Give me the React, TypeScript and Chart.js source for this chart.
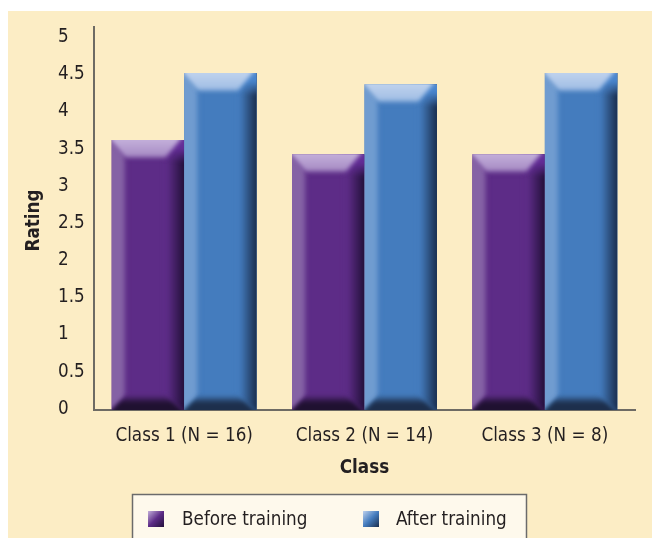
import React, { useEffect, useRef } from "react";
import { Chart, registerables } from "chart.js";

Chart.register(...registerables);

// ---- data ----
const categories = ["Class 1 (N = 16)", "Class 2 (N = 14)", "Class 3 (N = 8)"];
const seriesNames = ["Before training", "After training"];
const beforeTraining = [3.63, 3.44, 3.44];
const afterTraining = [4.53, 4.38, 4.53];
const yTicks = [0, 0.5, 1, 1.5, 2, 2.5, 3, 3.5, 4, 4.5, 5];
const xTitle = "Class";
const yTitle = "Rating";

// ---- styles ----
const FONT = "'DejaVu Sans Condensed', 'DejaVu Sans', sans-serif";
const FS = 18.7;
const TEXT = "#231F20";
const AXIS = "#6E6B64";
const BG = "#FCEDC5";

const palettes = [
  { main: "#5D2C87", light: "#8562A5", top: "#C3AFDA", topEnd: "#A88DC5", accent: "rgba(100,46,152,1)", accent0: "rgba(100,46,152,0)", dark: "#23103A", bottom: "#1F1130" },
  { main: "#447CBE", light: "#709CD0", top: "#BFD2ED", topEnd: "#A2BFE5", accent: "rgba(74,134,206,1)", accent0: "rgba(74,134,206,0)", dark: "#1A2E4E", bottom: "#1D2F4C" },
];

const bevelPlugin = {
  id: "bevel",
  afterDatasetsDraw(chart: any) {
    const ctx: CanvasRenderingContext2D = chart.ctx;
    chart.data.datasets.forEach((_ds: any, di: number) => {
      const meta = chart.getDatasetMeta(di);
      const p = palettes[di];
      meta.data.forEach((el: any) => {
        const { x, y, base, width } = el.getProps(["x", "y", "base", "width"], true);
        const x0 = x - width / 2;
        const x1 = x + width / 2;
        const top = Math.min(y, base);
        const bot = Math.max(y, base);
        const h = bot - top;
        const l = 15;
        const r = 20;
        const th = 19;
        const bh = 15;
        const E = 8;
        ctx.save();
        ctx.beginPath();
        ctx.rect(x0, top, width, h);
        ctx.clip();
        (ctx as any).filter = "blur(2px)";
        // left strip
        let g = ctx.createLinearGradient(x0, 0, x0 + l, 0);
        g.addColorStop(0, p.light);
        g.addColorStop(0.75, p.light);
        g.addColorStop(1, p.main);
        ctx.fillStyle = g;
        ctx.beginPath();
        ctx.moveTo(x0 - E, top - E);
        ctx.lineTo(x0 + l, top + th);
        ctx.lineTo(x0 + l, bot - bh);
        ctx.lineTo(x0 - E, bot + E);
        ctx.closePath();
        ctx.fill();
        // right strip (full height)
        g = ctx.createLinearGradient(x1 - r, 0, x1, 0);
        g.addColorStop(0, p.main);
        g.addColorStop(0.15, p.main);
        g.addColorStop(1, p.dark);
        ctx.fillStyle = g;
        ctx.beginPath();
        ctx.moveTo(x1 + E, top - E);
        ctx.lineTo(x1 - r, top - E);
        ctx.lineTo(x1 - r, bot - bh);
        ctx.lineTo(x1 + E, bot + E);
        ctx.closePath();
        ctx.fill();
        // top-right accent, fading out downward
        g = ctx.createLinearGradient(0, top, 0, top + th + 4);
        g.addColorStop(0, p.accent);
        g.addColorStop(0.35, p.accent);
        g.addColorStop(1, p.accent0);
        ctx.fillStyle = g;
        ctx.beginPath();
        ctx.moveTo(x1 + E, top - E);
        ctx.lineTo(x1 + E, top + th + 4);
        ctx.lineTo(x1 - r, top + th);
        ctx.lineTo(x1 - r - E, top - E);
        ctx.closePath();
        ctx.fill();
        // top band with diagonal right end
        g = ctx.createLinearGradient(0, top, 0, top + th);
        g.addColorStop(0, p.top);
        g.addColorStop(0.82, p.topEnd);
        g.addColorStop(1, p.main);
        ctx.fillStyle = g;
        ctx.beginPath();
        ctx.moveTo(x0 - E, top - E);
        ctx.lineTo(x1 + E * 0.3, top - E);
        ctx.lineTo(x1 - r, top + th);
        ctx.lineTo(x0 + l, top + th);
        ctx.closePath();
        ctx.fill();
        // bottom band
        g = ctx.createLinearGradient(0, bot - bh, 0, bot);
        g.addColorStop(0, p.main);
        g.addColorStop(0.55, p.bottom);
        g.addColorStop(1, p.bottom);
        ctx.fillStyle = g;
        ctx.beginPath();
        ctx.moveTo(x0 - E, bot + E);
        ctx.lineTo(x0 + l, bot - bh);
        ctx.lineTo(x1 - r, bot - bh);
        ctx.lineTo(x1 + E, bot + E);
        ctx.closePath();
        ctx.fill();
        ctx.restore();
      });
    });
  },
};

const extrasPlugin = {
  id: "extras",
  afterDraw(chart: any) {
    const ctx: CanvasRenderingContext2D = chart.ctx;
    const area = chart.chartArea;
    // y title
    ctx.save();
    ctx.translate(26, (area.top + area.bottom) / 2 + 2);
    ctx.rotate(-Math.PI / 2);
    ctx.font = `bold ${FS}px ${FONT}`;
    ctx.fillStyle = TEXT;
    ctx.textAlign = "center";
    ctx.textBaseline = "middle";
    ctx.fillText(yTitle, 0, 0);
    ctx.restore();

    // legend box
    ctx.save();
    ctx.fillStyle = "#FEF9EC";
    ctx.strokeStyle = "#6B6B6B";
    ctx.lineWidth = 1.5;
    ctx.beginPath();
    ctx.rect(124.5, 483.5, 394, 60);
    ctx.fill();
    ctx.stroke();
    const items = [
      { sx: 140, tx: 174 },
      { sx: 355, tx: 388 },
    ];
    chart.data.datasets.forEach((ds: any, i: number) => {
      const p = palettes[i];
      const it = items[i];
      const g = ctx.createLinearGradient(it.sx, 500, it.sx + 16, 516);
      g.addColorStop(0, p.top);
      g.addColorStop(0.5, p.main);
      g.addColorStop(1, p.dark);
      ctx.fillStyle = g;
      ctx.fillRect(it.sx, 500, 16, 16);
      ctx.fillStyle = TEXT;
      ctx.font = `${FS}px ${FONT}`;
      ctx.textAlign = "left";
      ctx.textBaseline = "middle";
      ctx.fillText(ds.label, it.tx, 509);
    });
    ctx.restore();
  },
};

export default function App() {
  const ref = useRef<HTMLCanvasElement | null>(null);
  useEffect(() => {
    if (!ref.current) return;
    const chart = new Chart(ref.current, {
      type: "bar",
      data: {
        labels: categories,
        datasets: [
          { label: seriesNames[0], data: beforeTraining, backgroundColor: palettes[0].main },
          { label: seriesNames[1], data: afterTraining, backgroundColor: palettes[1].main },
        ],
      },
      options: {
        responsive: false,
        animation: false,
        devicePixelRatio: 1,
        layout: { padding: { left: 50, right: 17, top: 16, bottom: 58 } },
        datasets: { bar: { categoryPercentage: 0.804, barPercentage: 1, borderWidth: 0 } },
        plugins: {
          legend: { display: false },
          tooltip: { enabled: false },
          title: { display: false },
        },
        scales: {
          x: {
            grid: { display: false, drawTicks: false },
            border: { display: true, color: AXIS, width: 2 },
            ticks: { color: TEXT, font: { family: FONT, size: FS }, padding: 15, maxRotation: 0 },
            title: {
              display: true,
              text: xTitle,
              color: TEXT,
              font: { family: FONT, size: FS, weight: "bold" },
              padding: { top: 0, bottom: 1 },
            },
            afterFit: (s: any) => {
              s.height = 70;
              s.paddingLeft = 0;
              s.paddingRight = 0;
            },
          },
          y: {
            min: 0,
            max: 5.15,
            grid: { display: false, drawTicks: false },
            border: { display: true, color: AXIS, width: 2 },
            ticks: {
              color: TEXT,
              font: { family: FONT, size: FS },
              crossAlign: "far",
              labelOffset: -1,
              padding: 0,
              callback: (v: any) => String(v),
            },
            afterBuildTicks: (s: any) => {
              s.ticks = yTicks.map((v) => ({ value: v }));
            },
            afterFit: (s: any) => {
              s.width = 36;
              s.paddingTop = 0;
              s.paddingBottom = 0;
            },
          },
        },
      },
      plugins: [bevelPlugin, extrasPlugin],
    } as any);
    return () => chart.destroy();
  }, []);
  return (
    <canvas
      ref={ref}
      width={644}
      height={527}
      style={{ position: "absolute", left: 8, top: 11, width: 644, height: 527, background: BG }}
    />
  );
}
